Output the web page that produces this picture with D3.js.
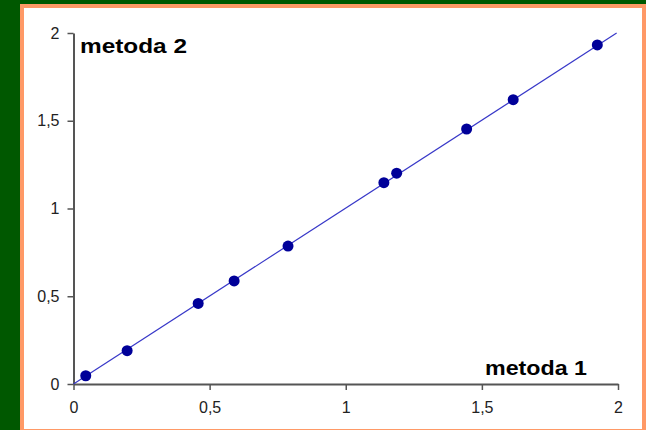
<!DOCTYPE html>
<html>
<head>
<meta charset="utf-8">
<script src="https://cdn.jsdelivr.net/npm/d3@7"></script>
<style>
html,body{margin:0;padding:0;background:#005a00;}
svg{display:block;}
</style>
</head>
<body>
<svg id="chart" width="646" height="430"></svg>
<script>
// Data
const metoda1 = [0.045, 0.197, 0.458, 0.590, 0.788, 1.140, 1.187, 1.444, 1.615, 1.924];
const metoda2 = [0.047, 0.190, 0.459, 0.587, 0.786, 1.147, 1.201, 1.453, 1.620, 1.932];
const lineX = [0, 1.995];
const lineY = [0, 2.0];
const xTicks = [0, 0.5, 1, 1.5, 2];
const yTicks = [0, 0.5, 1, 1.5, 2];
const xTitle = "metoda 1";
const yTitle = "metoda 2";

const svg = d3.select("#chart");
svg.append("rect").attr("x",0).attr("y",0).attr("width",646).attr("height",430).attr("fill","#005800");
svg.append("rect").attr("x",22).attr("y",6).attr("width",622).attr("height",425)
  .attr("fill","#ffffff").attr("stroke","#ff9966").attr("stroke-width",4);

const x = d3.scaleLinear().domain([0,2]).range([73.5,618]);
const y = d3.scaleLinear().domain([0,2]).range([384,33]);

const fmt = d => String(d).replace(".", ",");

const xAxis = svg.append("g").attr("transform","translate(0,384)")
  .call(d3.axisBottom(x).tickValues(xTicks).tickFormat(fmt).tickSize(6).tickSizeOuter(0).tickPadding(12));
const yAxis = svg.append("g").attr("transform","translate(73.5,0)")
  .call(d3.axisLeft(y).tickValues(yTicks).tickFormat(fmt).tickSize(6).tickSizeOuter(0).tickPadding(8));

[xAxis,yAxis].forEach(g=>{
  g.select(".domain").attr("stroke","#555").attr("stroke-width",2);
  g.selectAll(".tick line").attr("stroke","#555").attr("stroke-width",1.5);
  g.selectAll(".tick text").attr("fill","#222").style("font-family","Arial, 'Liberation Sans', sans-serif").style("font-size","16px");
});

// regression line
svg.append("line")
  .attr("x1", x(lineX[0])).attr("y1", y(lineY[0]))
  .attr("x2", x(lineX[1])).attr("y2", y(lineY[1]))
  .attr("stroke","#3838c8").attr("stroke-width",1.2);

// points
svg.append("g").selectAll("circle").data(metoda1.map((v,i)=>[v,metoda2[i]]))
  .join("circle")
  .attr("cx", d=>x(d[0])).attr("cy", d=>y(d[1])).attr("r",5.5)
  .attr("fill","#000099");

// titles
svg.append("text").attr("x",80).attr("y",53).text(yTitle)
  .attr("textLength",107).attr("lengthAdjust","spacingAndGlyphs")
  .style("font-family","Arial, 'Liberation Sans', sans-serif").style("font-weight","bold").style("font-size","21px").attr("fill","#000");
svg.append("text").attr("x",485).attr("y",375).text(xTitle)
  .attr("textLength",102).attr("lengthAdjust","spacingAndGlyphs")
  .style("font-family","Arial, 'Liberation Sans', sans-serif").style("font-weight","bold").style("font-size","21px").attr("fill","#000");
</script>
</body>
</html>
